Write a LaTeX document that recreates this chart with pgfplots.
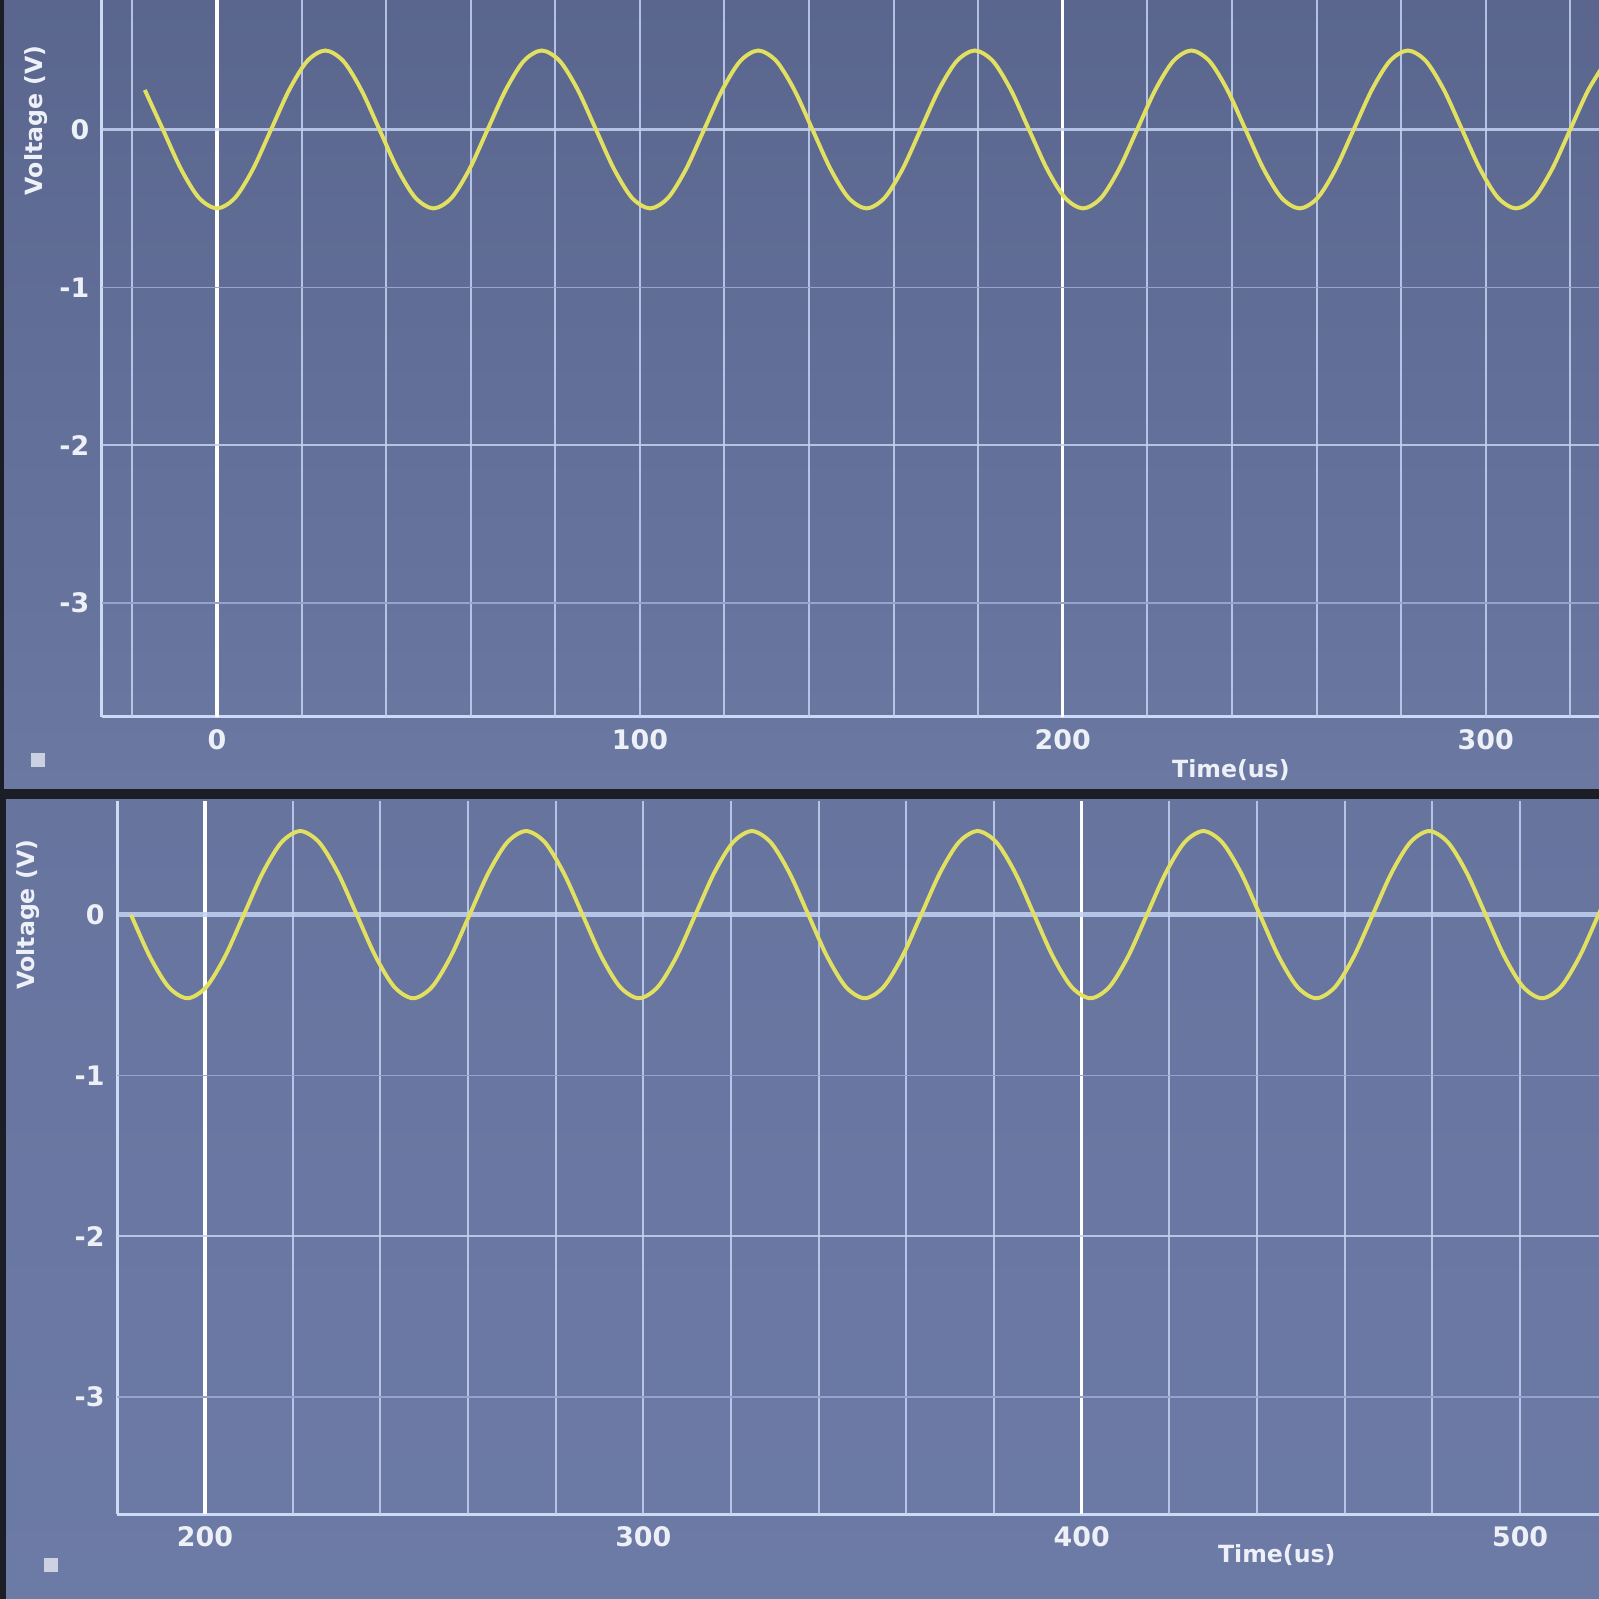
\documentclass[border=0pt]{standalone}
\usepackage{fontspec}
\setmainfont{DejaVu Sans}
\usepackage{pgfplots}
\pgfplotsset{compat=1.18}

\definecolor{bgtopa}{RGB}{90,102,142}
\definecolor{bgtopb}{RGB}{106,120,162}
\definecolor{bgbota}{RGB}{102,116,158}
\definecolor{bgbotb}{RGB}{108,122,166}
\definecolor{gapc}{RGB}{28,30,38}
\definecolor{gridn}{RGB}{196,210,242}
\definecolor{gridf}{RGB}{150,164,205}
\definecolor{spinec}{RGB}{205,218,245}
\definecolor{wave}{RGB}{226,224,96}
\definecolor{labc}{RGB}{238,240,248}

\tikzset{
  gn/.style={draw=gridn, line width=0.55pt, opacity=0.85},
  gf/.style={draw=gridf, line width=0.4pt},
  gb/.style={draw=white, line width=0.9pt},
}

\pgfplotsset{
  osc/.style={
    scale only axis,
    axis x line*=bottom, axis y line*=left,
    axis line style={-, draw=spinec, line width=0.85pt},
    major tick length=0pt,
    ytick={-3,-2,-1,0}, yticklabels={-3,-2,-1,0},
    ticklabel style={font=\fontsize{7.5}{8}\selectfont\bfseries, text=labc},
  },
  wavestyle/.style={wave, line width=1.1pt, smooth, no markers},
}

\begin{document}
\begin{tikzpicture}
\useasboundingbox (0,0) rectangle (15.68,15.68);
% panels
\shade[top color=bgtopa, bottom color=bgtopb] (0,7.94) rectangle (15.68,15.68);
\shade[top color=bgbota, bottom color=bgbotb] (0,0) rectangle (15.68,7.84);
\fill[gapc] (0,7.84) rectangle (15.68,7.94);
\fill[gapc] (0,0) rectangle (0.06,7.84);
\fill[gapc] (0,7.94) rectangle (0.04,15.68);

% upper capture
\begin{axis}[osc,
    at={(1.00cm,8.65cm)}, anchor=south west,
    width=14.68cm, height=7.03cm,
    xmin=-27.2, xmax=326.8, ymin=-3.72, ymax=0.82,
    xtick={0,100,200,300}, xticklabels={0,100,200,300},
  ]
  \pgfplotsinvokeforeach{-20,20,40,60,80,100,120,140,160,180,220,240,260,280,300,320}{
    \draw[gn] (axis cs:#1,-3.72) -- (axis cs:#1,0.82);
  }
  \draw[gb] (axis cs:0,-3.72) -- (axis cs:0,0.82);
  \draw[gb] (axis cs:200,-3.72) -- (axis cs:200,0.82);
  \draw[gf] (axis cs:-27.2,-1) -- (axis cs:326.8,-1);
  \draw[gf] (axis cs:-27.2,-3) -- (axis cs:326.8,-3);
  \draw[gn] (axis cs:-27.2,-2) -- (axis cs:326.8,-2);
  \draw[gn, line width=0.75pt] (axis cs:-27.2,0) -- (axis cs:326.8,0);

  \addplot[wavestyle] coordinates {
    (-17.07,0.25) (-12.80,0) (-8.53,-0.25) (-4.27,-0.433)
    (0.00,-0.5) (4.27,-0.433) (8.53,-0.25) (12.80,0) (17.07,0.25) (21.33,0.433)
    (25.60,0.5) (29.87,0.433) (34.13,0.25) (38.40,0) (42.67,-0.25) (46.93,-0.433)
    (51.20,-0.5) (55.47,-0.433) (59.73,-0.25) (64.00,0) (68.27,0.25) (72.53,0.433)
    (76.80,0.5) (81.07,0.433) (85.33,0.25) (89.60,0) (93.87,-0.25) (98.13,-0.433)
    (102.40,-0.5) (106.67,-0.433) (110.93,-0.25) (115.20,0) (119.47,0.25) (123.73,0.433)
    (128.00,0.5) (132.27,0.433) (136.53,0.25) (140.80,0) (145.07,-0.25) (149.33,-0.433)
    (153.60,-0.5) (157.87,-0.433) (162.13,-0.25) (166.40,0) (170.67,0.25) (174.93,0.433)
    (179.20,0.5) (183.47,0.433) (187.73,0.25) (192.00,0) (196.27,-0.25) (200.53,-0.433)
    (204.80,-0.5) (209.07,-0.433) (213.33,-0.25) (217.60,0) (221.87,0.25) (226.13,0.433)
    (230.40,0.5) (234.67,0.433) (238.93,0.25) (243.20,0) (247.47,-0.25) (251.73,-0.433)
    (256.00,-0.5) (260.27,-0.433) (264.53,-0.25) (268.80,0) (273.07,0.25) (277.33,0.433)
    (281.60,0.5) (285.87,0.433) (290.13,0.25) (294.40,0) (298.67,-0.25) (302.93,-0.433)
    (307.20,-0.5) (311.47,-0.433) (315.73,-0.25) (320.00,0) (324.27,0.25) (328.53,0.433)
  };
\end{axis}

% lower capture
\begin{axis}[osc,
    at={(1.15cm,0.83cm)}, anchor=south west,
    width=14.53cm, height=7.00cm,
    xmin=180, xmax=518, ymin=-3.73, ymax=0.71,
    xtick={200,300,400,500}, xticklabels={200,300,400,500},
  ]
  \pgfplotsinvokeforeach{220,240,260,280,300,320,340,360,380,420,440,460,480,500}{
    \draw[gn] (axis cs:#1,-3.73) -- (axis cs:#1,0.71);
  }
  \draw[gb] (axis cs:200,-3.73) -- (axis cs:200,0.71);
  \draw[gb] (axis cs:400,-3.73) -- (axis cs:400,0.71);
  \draw[gf] (axis cs:180,-1) -- (axis cs:518,-1);
  \draw[gf] (axis cs:180,-3) -- (axis cs:518,-3);
  \draw[gn] (axis cs:180,-2) -- (axis cs:518,-2);
  \draw[gn, line width=1.5pt] (axis cs:180,0) -- (axis cs:518,0);

  \addplot[wavestyle] coordinates {
    (183.13,0) (187.42,-0.26) (191.71,-0.45)
    (196.00,-0.52) (200.29,-0.45) (204.58,-0.26) (208.88,0) (213.17,0.26) (217.46,0.45)
    (221.75,0.52) (226.04,0.45) (230.33,0.26) (234.63,0) (238.92,-0.26) (243.21,-0.45)
    (247.50,-0.52) (251.79,-0.45) (256.08,-0.26) (260.38,0) (264.67,0.26) (268.96,0.45)
    (273.25,0.52) (277.54,0.45) (281.83,0.26) (286.13,0) (290.42,-0.26) (294.71,-0.45)
    (299.00,-0.52) (303.29,-0.45) (307.58,-0.26) (311.88,0) (316.17,0.26) (320.46,0.45)
    (324.75,0.52) (329.04,0.45) (333.33,0.26) (337.63,0) (341.92,-0.26) (346.21,-0.45)
    (350.50,-0.52) (354.79,-0.45) (359.08,-0.26) (363.38,0) (367.67,0.26) (371.96,0.45)
    (376.25,0.52) (380.54,0.45) (384.83,0.26) (389.13,0) (393.42,-0.26) (397.71,-0.45)
    (402.00,-0.52) (406.29,-0.45) (410.58,-0.26) (414.88,0) (419.17,0.26) (423.46,0.45)
    (427.75,0.52) (432.04,0.45) (436.33,0.26) (440.63,0) (444.92,-0.26) (449.21,-0.45)
    (453.50,-0.52) (457.79,-0.45) (462.08,-0.26) (466.38,0) (470.67,0.26) (474.96,0.45)
    (479.25,0.52) (483.54,0.45) (487.83,0.26) (492.13,0) (496.42,-0.26) (500.71,-0.45)
    (505.00,-0.52) (509.29,-0.45) (513.58,-0.26) (517.88,0) (522.17,0.26)
  };
\end{axis}

% axis titles and small corner icons
\begin{scope}[every node/.style={font=\fontsize{6.6}{7}\selectfont\bfseries, text=labc}]
  \node[rotate=90] at (0.35,14.50) {Voltage (V)};
  \node at (12.07,8.13) {Time(us)};
  \node[rotate=90] at (0.28,6.71) {Voltage (V)};
  \node at (12.52,0.43) {Time(us)};
\end{scope}
\fill[labc, opacity=0.75] (0.30,8.16) rectangle (0.44,8.30);
\fill[labc, opacity=0.75] (0.43,0.26) rectangle (0.57,0.40);
\end{tikzpicture}
\end{document}
